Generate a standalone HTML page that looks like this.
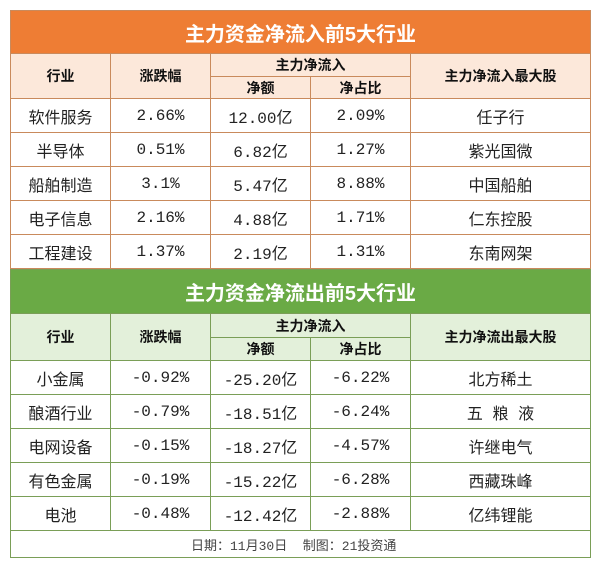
<!DOCTYPE html>
<html><head><meta charset="utf-8"><style>
body{margin:0;width:600px;height:567px;background:#fff;position:relative;overflow:hidden;font-family:"Liberation Mono","Noto Sans CJK SC",monospace;}
table{position:absolute;left:10px;border-collapse:collapse;table-layout:fixed;width:580px;}
td{text-align:center;padding:0;font-size:16px;color:#222;}
.o td{border:1px solid #c98a5c;}
.g td{border:1px solid #7a9e57;}
.title td{color:#fff;font-weight:bold;font-size:20px;font-family:"Liberation Sans","Noto Sans CJK SC",sans-serif;}
.o .title td{background:#ee7d34;}
.g .title td{background:#6aaa45;}
.h td{font-weight:bold;font-size:14px;font-family:"Liberation Sans","Noto Sans CJK SC",sans-serif;color:#111;}
.o .h td{background:#fce8da;}
.g .h td{background:#e3f0da;}
.r td{height:33px;}
.f td{text-align:left;font-size:13px;color:#444;padding-left:180px;height:26px;}
</style></head><body>
<table class="o" style="top:10px">
<colgroup><col style="width:100px"><col style="width:100px"><col style="width:100px"><col style="width:100px"><col style="width:180px"></colgroup>
<tr class="title"><td colspan="5" style="height:42px">主力资金净流入前5大行业</td></tr>
<tr class="h"><td rowspan="2">行业</td><td rowspan="2">涨跌幅</td><td colspan="2" style="height:22px">主力净流入</td><td rowspan="2">主力净流入最大股</td></tr>
<tr class="h"><td style="height:21px">净额</td><td>净占比</td></tr>
<tr class="r"><td>软件服务</td><td>2.66%</td><td>12.00亿</td><td>2.09%</td><td>任子行</td></tr>
<tr class="r"><td>半导体</td><td>0.51%</td><td>6.82亿</td><td>1.27%</td><td>紫光国微</td></tr>
<tr class="r"><td>船舶制造</td><td>3.1%</td><td>5.47亿</td><td>8.88%</td><td>中国船舶</td></tr>
<tr class="r"><td>电子信息</td><td>2.16%</td><td>4.88亿</td><td>1.71%</td><td>仁东控股</td></tr>
<tr class="r"><td>工程建设</td><td>1.37%</td><td>2.19亿</td><td>1.31%</td><td>东南网架</td></tr>
</table>
<table class="g" style="top:269px">
<colgroup><col style="width:100px"><col style="width:100px"><col style="width:100px"><col style="width:100px"><col style="width:180px"></colgroup>
<tr class="title"><td colspan="5" style="height:43px">主力资金净流出前5大行业</td></tr>
<tr class="h"><td rowspan="2">行业</td><td rowspan="2">涨跌幅</td><td colspan="2" style="height:23px">主力净流入</td><td rowspan="2">主力净流出最大股</td></tr>
<tr class="h"><td style="height:22px">净额</td><td>净占比</td></tr>
<tr class="r"><td>小金属</td><td>-0.92%</td><td>-25.20亿</td><td>-6.22%</td><td>北方稀土</td></tr>
<tr class="r"><td>酿酒行业</td><td>-0.79%</td><td>-18.51亿</td><td>-6.24%</td><td>五 粮 液</td></tr>
<tr class="r"><td>电网设备</td><td>-0.15%</td><td>-18.27亿</td><td>-4.57%</td><td>许继电气</td></tr>
<tr class="r"><td>有色金属</td><td>-0.19%</td><td>-15.22亿</td><td>-6.28%</td><td>西藏珠峰</td></tr>
<tr class="r"><td>电池</td><td>-0.48%</td><td>-12.42亿</td><td>-2.88%</td><td>亿纬锂能</td></tr>
<tr class="f"><td colspan="5">日期：11月30日&nbsp;&nbsp;制图：21投资通</td></tr>
</table>
</body></html>
